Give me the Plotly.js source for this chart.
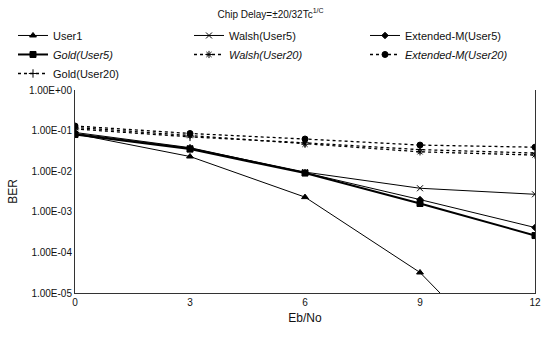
<!DOCTYPE html>
<html>
<head>
<meta charset="utf-8">
<script src="https://cdn.plot.ly/plotly-3.0.1.min.js"></script>
<style>html,body{margin:0;padding:0;background:#fff;}#chart{width:541px;height:338px;}</style>
</head>
<body>
<div id="chart"></div>
<script>
const ebno = [0, 3, 6, 9, 12];
const user1 = [0.083, 0.023, 0.0023, 0.000032, 0.00000004];
const walshUser5 = [0.085, 0.037, 0.0095, 0.0038, 0.0027];
const extMUser5 = [0.09, 0.038, 0.0092, 0.002, 0.00041];
const goldUser5 = [0.08, 0.035, 0.009, 0.0016, 0.00026];
const walshUser20 = [0.12, 0.075, 0.046, 0.03, 0.025];
const extMUser20 = [0.13, 0.085, 0.062, 0.044, 0.039];
const goldUser20 = [0.11, 0.07, 0.05, 0.034, 0.028];
const yTickVals = [1, 0.1, 0.01, 0.001, 0.0001, 0.00001];
const yTickText = ['1.00E+00', '1.00E-01', '1.00E-02', '1.00E-03', '1.00E-04', '1.00E-05'];
const xTickVals = [0, 3, 6, 9, 12];

function tr(name, y, sym, dash, w, ms) {
  return {x: ebno, y: y, name: name, type: 'scatter', mode: 'lines+markers',
    line: {color: '#000', width: w, dash: dash},
    marker: {symbol: sym, size: ms, color: '#000', line: {color: '#000', width: 1}}};
}
const data = [
  tr('User1', user1, 'triangle-up', 'solid', 1, 6),
  tr('Walsh(User5)', walshUser5, 'x-thin-open', 'solid', 1, 6),
  tr('Extended-M(User5)', extMUser5, 'diamond', 'solid', 1, 5),
  tr('<i>Gold(User5)</i>', goldUser5, 'square', 'solid', 2, 6),
  tr('<i>Walsh(User20)</i>', walshUser20, 'asterisk-open', 'dot', 1.3, 6),
  tr('<i>Extended-M(User20)</i>', extMUser20, 'circle', 'dot', 1.3, 6),
  tr('Gold(User20)', goldUser20, 'cross-thin-open', 'dot', 1.3, 6)
];
const layout = {
  width: 541, height: 338,
  margin: {l: 75, r: 6, t: 90, b: 45},
  paper_bgcolor: '#fff', plot_bgcolor: '#fff',
  font: {family: 'Liberation Sans, Arial, sans-serif', color: '#111', size: 10},
  title: {text: 'Chip Delay=±20/32Tc<sup>1/C</sup>', font: {size: 10}, x: 0.5, xanchor: 'center', y: 0.958, yanchor: 'middle'},
  showlegend: true,
  legend: {orientation: 'h', x: -0.12, xanchor: 'left', y: 1.34, yanchor: 'top',
    entrywidth: 131, entrywidthmode: 'pixels', font: {size: 11}, itemwidth: 30,
    bgcolor: 'rgba(0,0,0,0)', traceorder: 'normal'},
  xaxis: {range: [0, 12], tickvals: xTickVals, ticks: '', showgrid: false, zeroline: false,
    showline: true, linecolor: '#333', linewidth: 1, mirror: false,
    tickfont: {size: 10}, title: {text: 'Eb/No', font: {size: 12}, standoff: 6}},
  yaxis: {type: 'log', range: [-5, 0], tickvals: yTickVals, ticktext: yTickText, ticks: '',
    showgrid: false, zeroline: false, showline: true, linecolor: '#333', linewidth: 1, mirror: true,
    tickfont: {size: 10}, title: {text: 'BER', font: {size: 12}, standoff: 8}}
};
Plotly.newPlot('chart', data, layout, {displayModeBar: false, staticPlot: true});
</script>
</body>
</html>
